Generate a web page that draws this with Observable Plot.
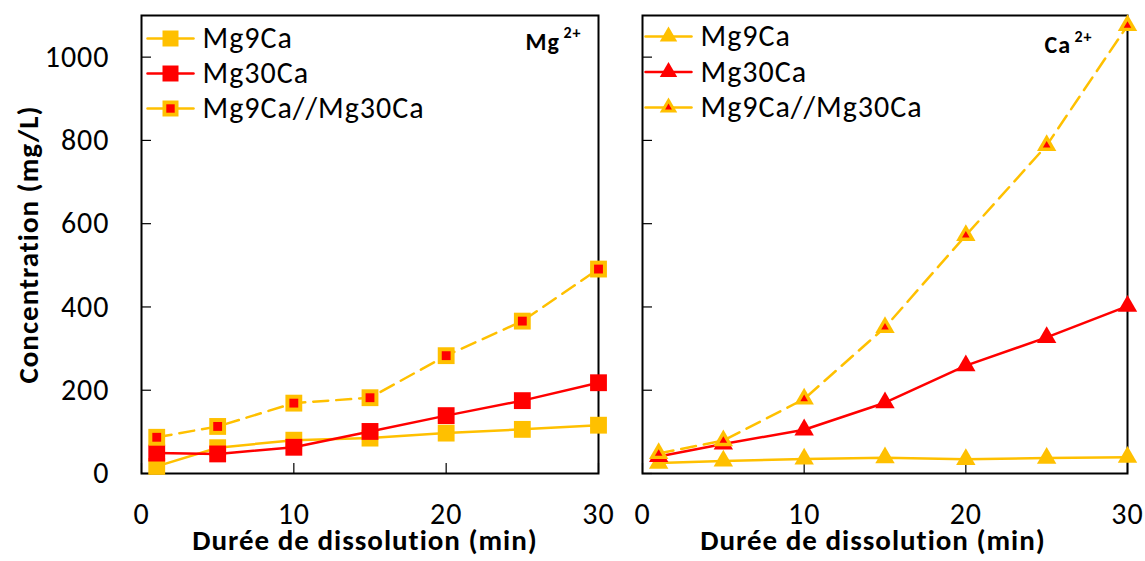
<!DOCTYPE html>
<html>
<head>
<meta charset="utf-8">
<script src="https://cdn.jsdelivr.net/npm/d3@7"></script>
<script src="https://cdn.jsdelivr.net/npm/@observablehq/plot@0.6"></script>
<style>
  html, body { margin: 0; padding: 0; background: #fff; }
  #wrap { position: relative; width: 1145px; height: 561px; overflow: hidden; }
  #left, #right { position: absolute; top: 0; }
  #left { left: 0; }
  #right { left: 620px; }
</style>
</head>
<body>
<div id="wrap"><div id="left"></div><div id="right"></div></div>
<script>
// ---- data ----
const minutes = [1, 5, 10, 15, 20, 25, 30];
const seriesNames = ["Mg9Ca", "Mg30Ca", "Mg9Ca//Mg30Ca"];
// Mg2+ panel (mg/L)
const mgMg9Ca = [17, 62, 80, 85, 97, 106, 116];
const mgMg30Ca = [49, 47, 63, 101, 139, 175, 218];
const mgMix = [87, 113, 169, 182, 283, 366, 491];
// Ca2+ panel (mg/L)
const caMg9Ca = [25, 30, 35, 38, 34, 37, 39];
const caMg30Ca = [41, 71, 105, 170, 259, 327, 402];
const caMix = [48, 79, 179, 351, 572, 788, 1076];
// axes
const xTicks = [0, 10, 20, 30];
const yTicks = [0, 200, 400, 600, 800, 1000];
const xLabel = "Durée de dissolution (min)";
const yLabel = "Concentration (mg/L)";

const YELLOW = "#FFC000";
const RED = "#FF0000";
const FONT = "Calibri, Carlito, 'Open Sans', sans-serif";
const H = 561, MT = 15, MB = 88;
const lineShape = {draw(ctx, l) { ctx.moveTo(0, 0); ctx.lineTo(0, -l); }};

function rows(vals) { return minutes.map((m, i) => ({minute: m, value: vals[i]})); }

function panel({width, ml, mr, values, symbol, outerR, innerR, legScale, ion, ionDx, ionDy, supDx, supDy, legDx, legDy, legStep, showY, xLabelDx}) {
  const plotW = width - ml - mr;
  const plotH = H - MT - MB;
  const styles = [
    {stroke: YELLOW, dash: null, fill: YELLOW, inner: null},
    {stroke: RED, dash: null, fill: RED, inner: null},
    {stroke: YELLOW, dash: "15,8", fill: YELLOW, inner: RED}
  ];
  const marks = [
    Plot.frame({stroke: "black", strokeWidth: 2}),
    Plot.tickY(yTicks, {y: d => d, insetRight: plotW - 10, stroke: "black", strokeWidth: 1.2}),
    Plot.tickX(xTicks, {x: d => d, insetTop: plotH - 10, stroke: "black", strokeWidth: 1.2}),
    Plot.axisX({ticks: xTicks, tickSize: 0, tickPadding: 29, label: null, tickFormat: d => String(d)}),
    Plot.text([xLabel], {frameAnchor: "bottom", dy: 76, dx: xLabelDx, textAnchor: "middle", fontWeight: "bold", fontSize: 29})
  ];
  if (showY) {
    marks.push(Plot.axisY({ticks: yTicks, tickSize: 0, tickPadding: 32, label: null, tickFormat: d => String(d)}));
    marks.push(Plot.text([yLabel], {frameAnchor: "left", dx: -113, rotate: -90, textAnchor: "middle", lineAnchor: "middle", fontWeight: "bold", fontSize: 29}));
  }
  values.forEach((vals, k) => {
    const s = styles[k];
    const data = rows(vals);
    marks.push(Plot.line(data, {x: "minute", y: "value", stroke: s.stroke, strokeWidth: 2.5, strokeDasharray: s.dash}));
    marks.push(Plot.dot(data, {x: "minute", y: "value", symbol, r: outerR, fill: s.fill, stroke: "none"}));
    if (s.inner) marks.push(Plot.dot(data, {x: "minute", y: "value", symbol, r: innerR, fill: s.inner, stroke: "none"}));
    // legend entry
    const dy = legDy + legStep * k;
    marks.push(Plot.vector([0], {frameAnchor: "top-left", dx: legDx, dy, length: 46, rotate: 90, anchor: "middle", shape: lineShape, stroke: s.stroke, strokeWidth: 2.5}));
    marks.push(Plot.dot([0], {frameAnchor: "top-left", dx: legDx, dy, symbol, r: outerR * legScale, fill: s.fill, stroke: "none"}));
    if (s.inner) marks.push(Plot.dot([0], {frameAnchor: "top-left", dx: legDx, dy, symbol, r: innerR * legScale, fill: s.inner, stroke: "none"}));
    marks.push(Plot.text([seriesNames[k]], {frameAnchor: "top-left", dx: legDx + 32, dy, textAnchor: "start", lineAnchor: "middle", fontSize: 30}));
  });
  marks.push(Plot.text([ion], {frameAnchor: "top-left", dx: ionDx, dy: ionDy, textAnchor: "start", lineAnchor: "middle", fontWeight: "bold", fontSize: 24}));
  marks.push(Plot.text(["2+"], {frameAnchor: "top-left", dx: ionDx + supDx, dy: supDy, textAnchor: "start", lineAnchor: "middle", fontWeight: "bold", fontSize: 16}));
  return Plot.plot({
    width, height: H,
    marginLeft: ml, marginRight: mr, marginTop: MT, marginBottom: MB,
    x: {domain: [0, 30], axis: null},
    y: {domain: [0, 1100], axis: null},
    style: {fontFamily: FONT, fontSize: "30px", letterSpacing: "1px", color: "black", background: "white", overflow: "visible"},
    marks
  });
}

document.getElementById("left").append(panel({
  width: 620, ml: 141, mr: 22, values: [mgMg9Ca, mgMg30Ca, mgMix],
  symbol: "square", outerR: 9.5, innerR: 5, legScale: 0.95, ion: "Mg", ionDx: 384, ionDy: 27, supDx: 38, supDy: 17,
  legDx: 29, legDy: 23, legStep: 35, showY: true, xLabelDx: -5
}));
document.getElementById("right").append(panel({
  width: 525, ml: 22, mr: 18, values: [caMg9Ca, caMg30Ca, caMix],
  symbol: "triangle", outerR: 7.2, innerR: 2.8, legScale: 0.9, ion: "Ca", ionDx: 402, ionDy: 30, supDx: 30, supDy: 21,
  legDx: 26, legDy: 21, legStep: 35.5, showY: false, xLabelDx: -12
}));
</script>
</body>
</html>
